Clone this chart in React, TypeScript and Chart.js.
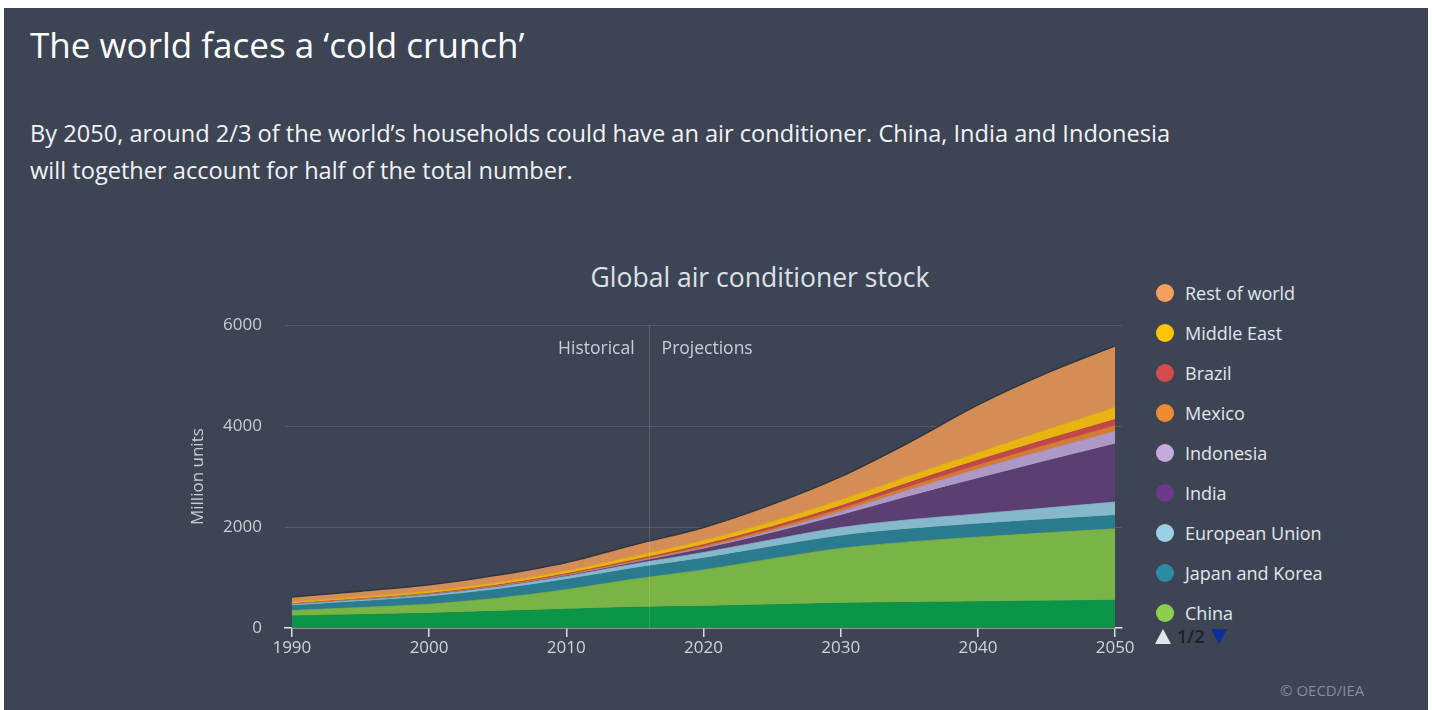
import React, { useEffect, useRef } from "react";
import { Chart, registerables } from "chart.js";

Chart.register(...registerables);

// ---- Data (million units) ----
const years = [1990, 1995, 2000, 2005, 2010, 2015, 2020, 2025, 2030, 2035, 2040, 2045, 2050];
const unitedStates = [240, 265, 290, 330, 370, 410, 430, 460, 490, 505, 520, 535, 550];
const china = [105, 140, 180, 260, 390, 560, 720, 910, 1085, 1200, 1280, 1350, 1415];
const japanKorea = [95, 120, 150, 175, 200, 215, 230, 240, 250, 255, 260, 263, 265];
const europeanUnion = [25, 30, 35, 45, 60, 85, 115, 140, 165, 185, 200, 230, 265];
const india = [3, 4, 5, 8, 12, 25, 70, 130, 240, 460, 700, 930, 1150];
const indonesia = [2, 3, 4, 5, 8, 12, 22, 40, 75, 130, 185, 220, 250];
const mexico = [5, 7, 9, 12, 15, 20, 30, 42, 55, 68, 80, 98, 115];
const brazil = [8, 10, 13, 16, 20, 27, 35, 45, 58, 78, 100, 110, 120];
const middleEast = [30, 35, 40, 48, 55, 70, 80, 100, 120, 135, 150, 190, 240];
const restOfWorld = [102, 116, 130, 150, 170, 230, 260, 343, 462, 664, 945, 1124, 1220];

const seriesNames = [
  "United States",
  "China",
  "Japan and Korea",
  "European Union",
  "India",
  "Indonesia",
  "Mexico",
  "Brazil",
  "Middle East",
  "Rest of world",
];
const areaColors = [
  "#0a9549",
  "#7bb446",
  "#2a7b8e",
  "#86b8cc",
  "#5b3f72",
  "#ad98c6",
  "#d57c34",
  "#c04848",
  "#e8b412",
  "#d38d55",
];
const legendColors = [
  "#00a84c",
  "#8ccf4f",
  "#2a8ca3",
  "#9ad0e6",
  "#6c3a8c",
  "#c4aadd",
  "#ee8a30",
  "#d54a4a",
  "#ffc400",
  "#f59f5a",
];
const xTickYears = [1990, 2000, 2010, 2020, 2030, 2040, 2050];
const yTickValues = [0, 2000, 4000, 6000];
const dividerYear = 2016;

const FONT = "'Open Sans', 'Noto Sans', sans-serif";

const dividerPlugin = {
  id: "divider",
  afterDatasetsDraw(chart: any) {
    const { ctx, chartArea, scales } = chart;
    const x = scales.x.getPixelForValue(dividerYear);
    ctx.save();
    ctx.strokeStyle = "rgba(255,255,255,0.13)";
    ctx.lineWidth = 1;
    ctx.beginPath();
    ctx.moveTo(Math.round(x) + 0.5, chartArea.top);
    ctx.lineTo(Math.round(x) + 0.5, chartArea.bottom);
    ctx.stroke();
    ctx.fillStyle = "#c9ced7";
    ctx.font = `17.5px ${FONT}`;
    ctx.textBaseline = "middle";
    ctx.textAlign = "right";
    ctx.fillText("Historical", x - 14, chartArea.top + 24);
    ctx.textAlign = "left";
    ctx.fillText("Projections", x + 13, chartArea.top + 24);
    ctx.restore();
  },
};

export default function App() {
  const ref = useRef<HTMLCanvasElement>(null);

  useEffect(() => {
    const canvas = ref.current;
    if (!canvas) return;
    const series = [
      unitedStates,
      china,
      japanKorea,
      europeanUnion,
      india,
      indonesia,
      mexico,
      brazil,
      middleEast,
      restOfWorld,
    ];
    const last = series.length - 1;
    const chart = new Chart(canvas, {
      type: "line",
      data: {
        datasets: series.map((s, i) => ({
          label: seriesNames[i],
          data: years.map((yr, j) => ({ x: yr, y: s[j] })),
          backgroundColor: areaColors[i],
          borderColor: i === last ? "#2f3542" : areaColors[i],
          borderWidth: i === last ? 1.5 : 0.8,
          fill: i === 0 ? "origin" : "-1",
          pointRadius: 0,
          pointHoverRadius: 0,
          tension: 0.4,
          cubicInterpolationMode: "monotone",
        })),
      },
      options: {
        animation: false,
        responsive: false,
        maintainAspectRatio: false,
        events: [],
        layout: { padding: { left: 0, right: 18, top: 17, bottom: 0 } },
        plugins: {
          legend: { display: false },
          tooltip: { enabled: false },
          title: { display: false },
        },
        scales: {
          x: {
            type: "linear",
            min: 1989.5,
            max: 2050.5,
            afterBuildTicks: (scale: any) => {
              scale.ticks = xTickYears.map((v) => ({ value: v }));
            },
            afterFit: (scale: any) => {
              scale.height = 42;
            },
            grid: {
              display: true,
              drawOnChartArea: false,
              drawTicks: true,
              tickLength: 9,
              color: "#d9dce2",
              lineWidth: 1.5,
            },
            border: { display: true, color: "#e4e6ea", width: 1.5 },
            ticks: {
              color: "#d0d4dc",
              font: { family: FONT, size: 17 },
              padding: 1,
              maxRotation: 0,
              callback: (v: any) => String(v),
            },
          },
          y: {
            stacked: true,
            min: 0,
            max: 6000,
            afterBuildTicks: (scale: any) => {
              scale.ticks = yTickValues.map((v) => ({ value: v }));
            },
            afterFit: (scale: any) => {
              scale.width = 105;
            },
            grid: {
              color: (c: any) => (c.tick && c.tick.value === 0 ? "rgba(0,0,0,0)" : "#515a6b"),
              drawTicks: false,
              lineWidth: 1,
            },
            border: { display: false },
            ticks: {
              color: "#c8ccd4",
              font: { family: FONT, size: 17 },
              padding: 23,
              callback: (v: any) => String(v),
            },
            title: {
              display: true,
              text: "Million units",
              color: "#c8ccd4",
              font: { family: FONT, size: 17 },
              padding: { top: 8, bottom: 0 },
            },
          },
        },
      },
      plugins: [dividerPlugin],
    } as any);
    return () => chart.destroy();
  }, []);

  const legendIdx = [9, 8, 7, 6, 5, 4, 3, 2, 1];

  return (
    <div
      style={{
        position: "absolute",
        left: 4,
        top: 8,
        width: 1424,
        height: 702,
        background: "#3d4555",
        fontFamily: FONT,
        overflow: "hidden",
      }}
    >
      <div
        style={{
          position: "absolute",
          left: 26,
          top: 20,
          fontSize: 35,
          lineHeight: "34px",
          color: "#ffffff",
          whiteSpace: "nowrap",
        }}
      >
        The world faces a ‘cold crunch’
      </div>
      <div
        style={{
          position: "absolute",
          left: 26,
          top: 107,
          fontSize: 23.6,
          lineHeight: "37px",
          color: "#f2f3f5",
          whiteSpace: "nowrap",
        }}
      >
        By 2050, around 2/3 of the world’s households could have an air conditioner. China, India and Indonesia
        <br />
        will together account for half of the total number.
      </div>
      <div
        style={{
          position: "absolute",
          left: 456,
          width: 600,
          top: 254,
          textAlign: "center",
          fontSize: 26.5,
          lineHeight: "30px",
          color: "#dde1e8",
          whiteSpace: "nowrap",
        }}
      >
        Global air conditioner stock
      </div>
      <canvas
        ref={ref}
        width={960}
        height={378}
        style={{ position: "absolute", left: 176, top: 284, width: 960, height: 378 }}
      />
      {legendIdx.map((si, k) => (
        <div
          key={seriesNames[si]}
          style={{
            position: "absolute",
            left: 1152,
            top: 285 + k * 40 - 12,
            height: 24,
            display: "flex",
            alignItems: "center",
            whiteSpace: "nowrap",
          }}
        >
          <span
            style={{
              display: "inline-block",
              width: 18,
              height: 18,
              borderRadius: "50%",
              background: legendColors[si],
              marginRight: 11,
            }}
          />
          <span style={{ fontSize: 18, color: "#e3e6eb" }}>{seriesNames[si]}</span>
        </div>
      ))}
      <div
        style={{
          position: "absolute",
          left: 1151,
          top: 616,
          height: 24,
          display: "flex",
          alignItems: "center",
          whiteSpace: "nowrap",
        }}
      >
        <span
          style={{
            display: "inline-block",
            width: 0,
            height: 0,
            borderLeft: "8px solid transparent",
            borderRight: "8px solid transparent",
            borderBottom: "15px solid #e4e4e6",
          }}
        />
        <span style={{ color: "#1b1f2b", fontSize: 18, fontWeight: 600, marginLeft: 6 }}>1/2</span>
        <span
          style={{
            display: "inline-block",
            width: 0,
            height: 0,
            marginLeft: 6,
            borderLeft: "8px solid transparent",
            borderRight: "8px solid transparent",
            borderTop: "15px solid #0b2f9e",
          }}
        />
      </div>
      <div
        style={{
          position: "absolute",
          left: 1276,
          top: 672,
          fontSize: 15,
          color: "#858da0",
          whiteSpace: "nowrap",
        }}
      >
        © OECD/IEA
      </div>
    </div>
  );
}
